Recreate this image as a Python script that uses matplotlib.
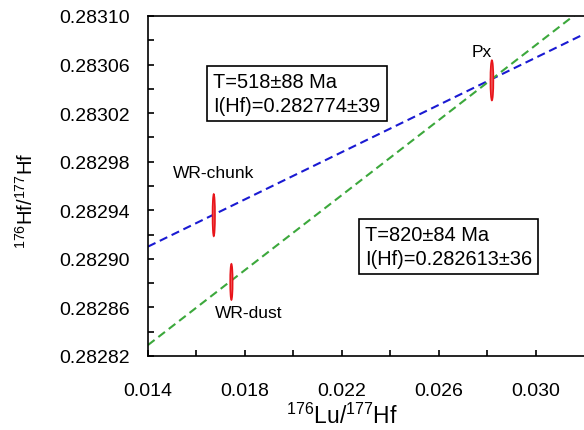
import numpy as np
import matplotlib
matplotlib.use('Agg')
import matplotlib.pyplot as plt
from matplotlib.patches import Ellipse
from matplotlib.ticker import FixedLocator, FormatStrFormatter

plt.rcParams['font.family'] = ['Liberation Sans', 'DejaVu Sans']
plt.rcParams['mathtext.fontset'] = 'custom'
plt.rcParams['mathtext.rm'] = 'Liberation Sans'
plt.rcParams['mathtext.it'] = 'Liberation Sans'

# samples: 176Lu/177Hf, 176Hf/177Hf and 2-sigma errors
names = ['WR-chunk', 'WR-dust', 'Px']
lu_hf = [0.016716, 0.017444, 0.028198]
hf_hf = [0.282936, 0.282881, 0.283047]
lu_err = [0.00005, 0.00005, 0.00006]
hf_err = [0.0000173, 0.0000148, 0.0000165]

# isochrons: initial ratio and slope
iso_labels = ['T=518±88 Ma\nI(Hf)=0.282774±39', 'T=820±84 Ma\nI(Hf)=0.282613±36']
iso_init = [0.282774, 0.282613]
iso_slope = [0.00972, 0.01543]
iso_colors = ['#1a1ad2', '#3ca83c']

x_major = [0.014, 0.018, 0.022, 0.026, 0.030]
x_minor = [0.016, 0.020, 0.024, 0.028]
y_major = [0.28282, 0.28286, 0.28290, 0.28294, 0.28298, 0.28302, 0.28306, 0.28310]
y_minor = [0.28284, 0.28288, 0.28292, 0.28296, 0.28300, 0.28304, 0.28308]

fig = plt.figure(figsize=(5.84, 4.31), dpi=100)
ax = fig.add_axes([0.2534, 0.1717, 0.7466, 0.7889])

xx = np.array([0.014, 0.032])
for a, b, c in zip(iso_init, iso_slope, iso_colors):
    ax.plot(xx, a + b * xx, color=c, lw=1.5, ls=(0, (4, 2.3)))

for x, y, ex, ey in zip(lu_hf, hf_hf, lu_err, hf_err):
    ax.add_patch(Ellipse((x, y), 2 * ex, 2 * ey, facecolor='#f26a6a',
                         edgecolor='#e8141a', lw=1.2, zorder=3))

ax.text(0.015016, 0.2829715, names[0], fontsize=12.5, va='center')
ax.text(0.016745, 0.2828562, names[1], fontsize=12.5, va='center')
ax.text(0.027362, 0.2830704, names[2], fontsize=12.5, va='center')

box = dict(boxstyle='square,pad=0.3', fc='white', ec='black', lw=1.2)
ax.text(0.016700, 0.2830362, iso_labels[0], fontsize=14.4, va='center',
        linespacing=1.3, bbox=box)
ax.text(0.022960, 0.282910, iso_labels[1], fontsize=14.4, va='center',
        linespacing=1.3, bbox=box)

ax.set_xlim(0.014, 0.032)
ax.set_ylim(0.28282, 0.28310)
ax.xaxis.set_major_locator(FixedLocator(x_major))
ax.xaxis.set_minor_locator(FixedLocator(x_minor))
ax.yaxis.set_major_locator(FixedLocator(y_major))
ax.yaxis.set_minor_locator(FixedLocator(y_minor))
ax.xaxis.set_major_formatter(FormatStrFormatter('%.3f'))
ax.yaxis.set_major_formatter(FormatStrFormatter('%.5f'))
ax.tick_params(which='both', direction='in', length=4, width=1.2, labelsize=14)
ax.tick_params(axis='x', pad=19)
ax.tick_params(axis='y', pad=13)
ax.spines['right'].set_visible(False)
for s in ['left', 'bottom', 'top']:
    ax.spines[s].set_linewidth(1.2)

ax.set_xlabel(r'$^{176}$Lu/$^{177}$Hf', fontsize=16.5)
ax.xaxis.set_label_coords(0.445, -0.138)
ax.set_ylabel(r'$^{176}$Hf/$^{177}$Hf', fontsize=14.5)
ax.yaxis.set_label_coords(-0.2546, 0.459)

fig.savefig('out.png', dpi=100)
